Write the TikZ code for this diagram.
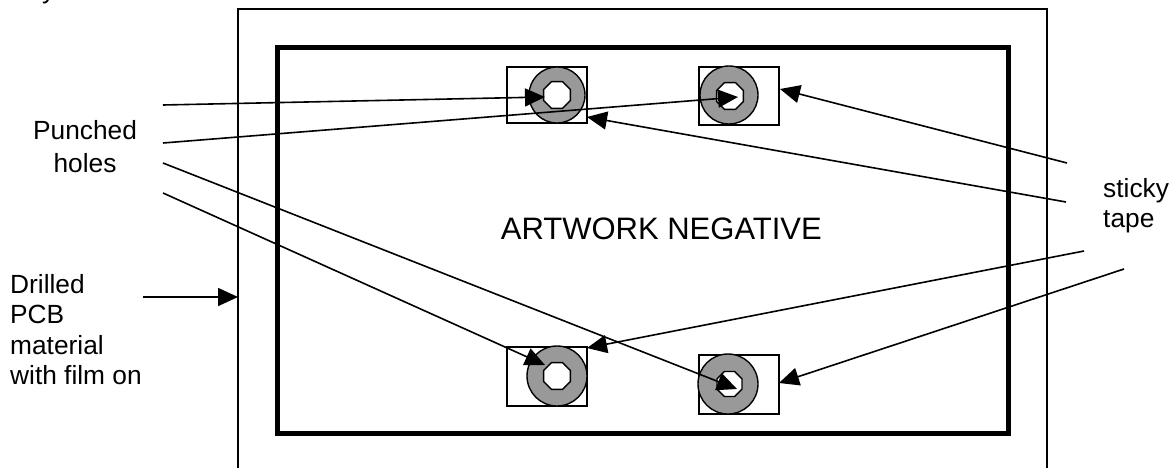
\documentclass[tikz,border=0pt]{standalone}
\usepackage{fontspec}
\setmainfont{Liberation Sans}
\usetikzlibrary{arrows.meta,calc}
\definecolor{ringgray}{RGB}{153,153,153}
\tikzset{
  thin line/.style={line width=1.6pt, draw=black},
  thick frame/.style={line width=5pt, draw=black},
  tapebox/.style={line width=1.6pt, draw=black},
  ring/.style={line width=1.4pt, draw=black, fill=ringgray},
  hole/.style={line width=1.4pt, draw=black, fill=white},
  pointer/.style={line width=1.6pt, draw=black, -{Triangle[length=20pt,width=18pt]}},
  label/.style={inner sep=0pt, font=\fontsize{26.3}{30.5}\selectfont},
  title/.style={inner sep=0pt, font=\fontsize{31}{36}\selectfont}
}
\begin{document}
\begin{tikzpicture}[x=1pt,y=-1pt]
\useasboundingbox (0,0) rectangle (1176,468);
% cut-off glyph at top left
\node[label, anchor=base west] (ytail) at (42,-1) {y};
% outer PCB
\draw[thin line] (238,480) -- (238,9) -- (1047,9) -- (1047,480);
% artwork negative frame
\draw[thick frame] (277,48) rectangle (1008,433);
\node[title, anchor=base east] (art) at (822,239) {ARTWORK NEGATIVE};
% tape boxes
\draw[tapebox] (507,67) rectangle (587,123);
\draw[tapebox] (699,67) rectangle (779,125);
\draw[tapebox] (507,347) rectangle (587,406);
\draw[tapebox] (699,355) rectangle (779,414);
% rings
\filldraw[ring] (557,95) circle[radius=28];
\filldraw[ring] (729,95) circle[radius=29];
\filldraw[ring] (557,376) circle[radius=30];
\filldraw[ring] (728,384) circle[radius=30];
% inner holes (octagons)
\foreach \cx/\cy/\r in {557/95/14.5, 730/96/14.5, 557/376/14.5, 729.5/384/13.5}{
  \filldraw[hole] ($(\cx,\cy)+(22.5:\r)$) -- ($(\cx,\cy)+(67.5:\r)$) -- ($(\cx,\cy)+(112.5:\r)$)
    -- ($(\cx,\cy)+(157.5:\r)$) -- ($(\cx,\cy)+(202.5:\r)$) -- ($(\cx,\cy)+(247.5:\r)$)
    -- ($(\cx,\cy)+(292.5:\r)$) -- ($(\cx,\cy)+(337.5:\r)$) -- cycle;
}
% labels
\node[label, anchor=north, align=center] (punched) at (85,120) {Punched\\[2.5pt]holes};
\node[label, anchor=north west, align=left] (drilled) at (10,274) {Drilled\\PCB\\material\\with film on};
\node[label, anchor=north west, align=left] (sticky) at (1103,178) {sticky\\[-0.5pt]tape};
% connector ends
\coordinate (p1) at (163,105); \coordinate (h1) at (545,97);
\coordinate (p2) at (163,143); \coordinate (h2) at (738,97);
\coordinate (p3) at (163,163); \coordinate (h3) at (737,389);
\coordinate (p4) at (163,193); \coordinate (h4) at (545,365);
\coordinate (sA) at (1067,163); \coordinate (tA) at (780,89);
\coordinate (sB) at (1066,202); \coordinate (tB) at (587,117);
\coordinate (sC) at (1084,251); \coordinate (tC) at (587,348);
\coordinate (sD) at (1124,269); \coordinate (tD) at (779,383);
\coordinate (d0) at (143,297); \coordinate (d1) at (238,297);
% connectors
\draw[pointer] (p1) -- (h1);
\draw[pointer] (p2) -- (h2);
\draw[pointer] (p3) -- (h3);
\draw[pointer] (p4) -- (h4);
\draw[pointer] (sA) -- (tA);
\draw[pointer] (sB) -- (tB);
\draw[pointer] (sC) -- (tC);
\draw[pointer] (sD) -- (tD);
\draw[pointer] (d0) -- (d1);
\end{tikzpicture}
\end{document}
